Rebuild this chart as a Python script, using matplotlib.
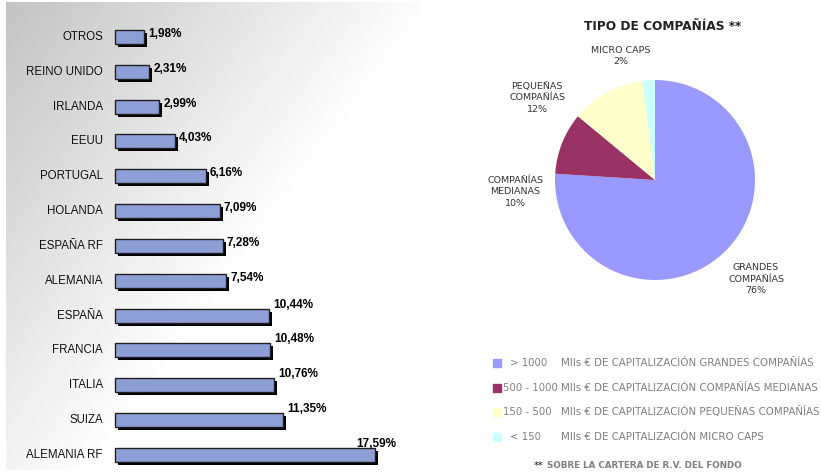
import numpy as np
import matplotlib.pyplot as plt
from matplotlib.patches import Rectangle

# datos
paises = ['OTROS', 'REINO UNIDO', 'IRLANDA', 'EEUU', 'PORTUGAL', 'HOLANDA',
          'ESPAÑA RF', 'ALEMANIA', 'ESPAÑA', 'FRANCIA', 'ITALIA', 'SUIZA',
          'ALEMANIA RF']
pesos = [1.98, 2.31, 2.99, 4.03, 6.16, 7.09, 7.28, 7.54, 10.44, 10.48,
         10.76, 11.35, 17.59]

tipos = ['GRANDES\nCOMPAÑÍAS', 'COMPAÑÍAS\nMEDIANAS', 'PEQUEÑAS\nCOMPAÑÍAS',
         'MICRO CAPS']
tipos_pct = [76, 10, 12, 2]
tipos_col = ['#9999ff', '#993366', '#ffffcc', '#ccffff']
rangos = ['> 1000', '500 - 1000', '150 - 500', '< 150']
desc = ['MIls € DE CAPITALIZACIÓN GRANDES COMPAÑÍAS',
        'MIls € DE CAPITALIZACIÓN COMPAÑÍAS MEDIANAS',
        'MIls € DE CAPITALIZACIÓN PEQUEÑAS COMPAÑÍAS',
        'MIls € DE CAPITALIZACIÓN MICRO CAPS']

W, H = 821, 472
fig = plt.figure(figsize=(W / 100, H / 100), dpi=100)
fuente = ['DejaVu Sans']


def px_axes(x0, y0, x1, y1):
    return fig.add_axes([x0 / W, 1 - y1 / H, (x1 - x0) / W, (y1 - y0) / H])


# ---- barras ----
ax = px_axes(6, 2, 420, 470)
sx = 14.78   # px por unidad
sy = 34.83   # px por fila
x0px, y0px = 115, 37
ax.set_xlim(-(x0px - 6) / sx, (420 - x0px) / sx)
ax.set_ylim((470 - y0px) / sy, (2 - y0px) / sy)
ax.axis('off')

# fondo degradado
gx, gy = np.meshgrid(np.linspace(0, 1, 300), np.linspace(0, 1, 300))
t = np.clip(0.95 * gx + 0.8 * gy, 0, 1)
g = 195 + 60 * t
ax.imshow(g, cmap='gray', vmin=0, vmax=255, aspect='auto',
          extent=[*ax.get_xlim(), *ax.get_ylim()], zorder=0)

ys = np.arange(len(paises))
bh = 14 / sy
ax.barh(ys + 3 / sy, pesos, left=3 / sx, height=bh, color='black', zorder=2)
ax.barh(ys, pesos, height=bh, color='#8e9ed6', edgecolor='#202020',
        linewidth=1, zorder=3)
for y, nombre, v in zip(ys, paises, pesos):
    ax.text(-12 / sx, y, nombre, ha='right', va='center', fontsize=8.3,
            family='Liberation Sans', color='#111111')
    etiqueta = f'{v:.2f}%'.replace('.', ',')
    top = y - bh / 2
    if v > 15:
        ax.text(v + 0.1, top - 1 / sy, etiqueta, ha='center',
                va='baseline', fontsize=8.5, fontweight='bold',
                family='Liberation Sans')
    else:
        dy = 7 if v < 10 else -1
        ax.text(v + 4 / sx, top + dy / sy, etiqueta, ha='left',
                va='baseline', fontsize=8.5, fontweight='bold',
                family='Liberation Sans')

# ---- tarta ----
cx, cy, r = 655, 180, 100
axp = px_axes(cx - r, cy - r, cx + r, cy + r)
axp.pie(tipos_pct, colors=tipos_col, startangle=90, counterclock=False,
        radius=1, wedgeprops=dict(linewidth=0))
axp.set_xlim(-1, 1)
axp.set_ylim(-1, 1)
axp.axis('off')

pos_etq = [(756, 279), (515, 192), (537, 98), (621, 56)]
for (lx, ly), nombre, p in zip(pos_etq, tipos, tipos_pct):
    fig.text(lx / W, 1 - ly / H, f'{nombre}\n{p}%', ha='center', va='center',
             fontsize=6.8, family=fuente, color='#333333', linespacing=1.4)

fig.text(663 / W, 1 - 27 / H, 'TIPO DE COMPAÑÍAS **', ha='center',
         va='center', fontsize=8.7, fontweight='bold', family=fuente,
         color='#222222')

# ---- leyenda ----
filas = [363, 388, 412, 437]
for fy, col, rg, d in zip(filas, tipos_col, rangos, desc):
    fig.patches.append(Rectangle((493 / W, 1 - (fy + 4) / H), 8 / W, 8 / H,
                                 transform=fig.transFigure, color=col))
    xr = 503 if len(rg) > 6 else 510
    fig.text(xr / W, 1 - fy / H, rg, ha='left', va='center', fontsize=7.3,
             family=fuente, color='#7f7f7f')
    fig.text(561 / W, 1 - fy / H, d, ha='left', va='center', fontsize=7.4,
             family=fuente, color='#7f7f7f')

fig.text(534 / W, 1 - 466 / H, '**', ha='left', va='center', fontsize=7,
         family=fuente, color='#222222')
fig.text(547 / W, 1 - 466 / H, 'SOBRE LA CARTERA DE R.V. DEL FONDO',
         ha='left', va='center', fontsize=6.3, family=fuente,
         color='#7f7f7f', fontweight='bold')

fig.savefig('out.png', dpi=100)
